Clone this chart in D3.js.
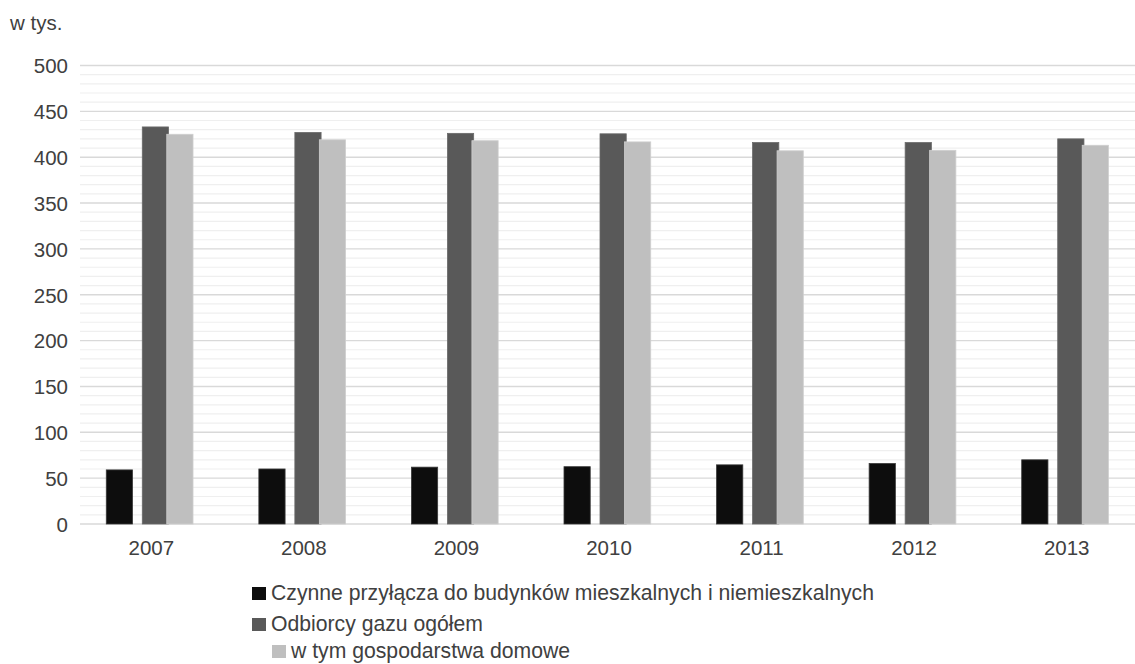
<!DOCTYPE html>
<html>
<head>
<meta charset="utf-8">
<script src="https://cdnjs.cloudflare.com/ajax/libs/d3/7.8.5/d3.min.js"></script>
<style>
  html, body { margin: 0; padding: 0; background: #ffffff; }
  svg { display: block; font-family: "Liberation Sans", Arial, sans-serif; }
</style>
</head>
<body>
<svg id="chart" width="1135" height="664"></svg>
<script>
const years = ["2007", "2008", "2009", "2010", "2011", "2012", "2013"];
const przylacza = [59, 60, 62, 62.5, 64.5, 66, 70];
const odbiorcy = [433, 427, 426, 425.5, 416, 416, 420];
const gospodarstwa = [425, 419, 418, 416.7, 407, 407.5, 413];
const seriesNames = [
  "Czynne przyłącza do budynków mieszkalnych i niemieszkalnych",
  "Odbiorcy gazu ogółem",
  "w tym gospodarstwa domowe"
];
const yTicks = [0, 50, 100, 150, 200, 250, 300, 350, 400, 450, 500];
const unitLabel = "w tys.";

(function () {
const colors = ["#0d0d0d", "#595959", "#bfbfbf"];
const strokes = ["#3a3a3a", "#6a6a6a", "#cfcfcf"];
const FS = 20.5;
const LFS = 21.2;

const svg = d3.select("#chart");
const pLeft = 75, pRight = 1143, pTop = 65.5, pBottom = 524;

const x = d3.scaleBand().domain(years).range([pLeft, pRight]).paddingInner(0).paddingOuter(0);
const y = d3.scaleLinear().domain([0, 500]).range([pBottom, pTop]);

// minor gridlines
const minor = d3.range(10, 500, 10).filter(v => v % 50 !== 0);
svg.append("g").selectAll("line").data(minor).join("line")
  .attr("x1", 80).attr("x2", 1135)
  .attr("y1", d => y(d)).attr("y2", d => y(d))
  .attr("stroke", "#efefef").attr("stroke-width", 1.2);

// major gridlines
svg.append("g").selectAll("line").data(yTicks).join("line")
  .attr("x1", 80).attr("x2", 1135)
  .attr("y1", d => y(d)).attr("y2", d => y(d))
  .attr("stroke", "#d9d9d9").attr("stroke-width", 1.4);

// y axis labels
const yAxis = d3.axisLeft(y).tickValues(yTicks).tickSize(0).tickPadding(0);
const gy = svg.append("g").attr("transform", "translate(68,0)").call(yAxis);
gy.select(".domain").remove();
gy.selectAll("text").attr("font-size", FS).attr("fill", "#404040")
  .attr("font-family", "Liberation Sans, Arial, sans-serif").attr("dy", "0.36em");

// x axis labels
const xAxis = d3.axisBottom(x).tickSize(0).tickPadding(0);
const gx = svg.append("g").attr("transform", "translate(0,555)").call(xAxis);
gx.select(".domain").remove();
gx.selectAll("text").attr("font-size", FS).attr("fill", "#404040")
  .attr("font-family", "Liberation Sans, Arial, sans-serif").attr("dy", "0").attr("y", 0);

// bars
const bw = x.bandwidth();
const barW = bw * 0.172;
const offsets = [-0.295, -0.059, 0.1015];
const allSeries = [przylacza, odbiorcy, gospodarstwa];
allSeries.forEach((vals, si) => {
  svg.append("g").selectAll("rect").data(years).join("rect")
    .attr("x", d => x(d) + bw / 2 + offsets[si] * bw)
    .attr("width", barW)
    .attr("y", (d, i) => y(vals[i]))
    .attr("height", (d, i) => y(0) - y(vals[i]))
    .attr("fill", colors[si])
    .attr("stroke", strokes[si]).attr("stroke-width", 0.8);
});

// unit label
svg.append("text").attr("x", 10).attr("y", 30).text(unitLabel)
  .attr("font-size", FS).attr("fill", "#404040");

// legend
const legendRows = [
  { sx: 252, ty: 600 },
  { sx: 252, ty: 631 },
  { sx: 272, ty: 658 }
];
seriesNames.forEach((name, i) => {
  const r = legendRows[i];
  svg.append("rect").attr("x", r.sx).attr("y", r.ty - 13).attr("width", 14).attr("height", 13)
    .attr("fill", colors[i]);
  svg.append("text").attr("x", r.sx + 19).attr("y", r.ty).text(name)
    .attr("font-size", LFS).attr("fill", "#404040");
});
})();
</script>
</body>
</html>
